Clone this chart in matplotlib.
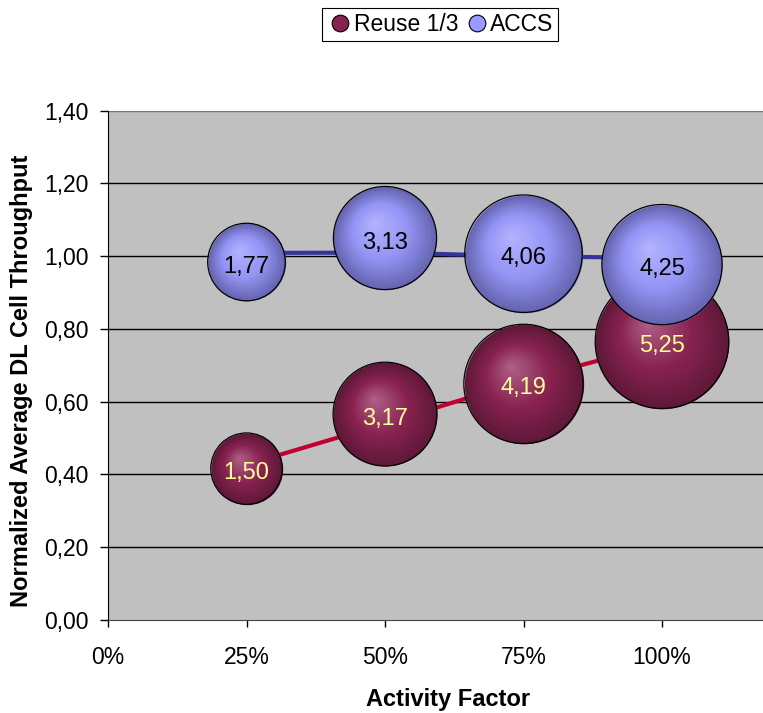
import numpy as np
import matplotlib
matplotlib.use('Agg')
import matplotlib.pyplot as plt
from matplotlib.transforms import ScaledTranslation
from matplotlib.lines import Line2D

plt.rcParams['font.family'] = ['Liberation Sans', 'DejaVu Sans']

# data
activity = [0.25, 0.50, 0.75, 1.00]
reuse_y = [0.416, 0.566, 0.649, 0.765]
reuse_size = [1.50, 3.17, 4.19, 5.25]
reuse_line = [0.427, 0.54, 0.658, 0.76]
accs_y = [0.984, 1.05, 1.007, 0.977]
accs_size = [1.77, 3.13, 4.06, 4.25]
accs_line = [1.009, 1.01, 1.0, 0.995]
yticks = [0.0, 0.2, 0.4, 0.6, 0.8, 1.0, 1.2, 1.4]
xticks = [0.0, 0.25, 0.5, 0.75, 1.0]

W, H = 763, 713
fig = plt.figure(figsize=(W / 100, H / 100), dpi=100)
ax = fig.add_axes([108 / W, (H - 620) / H, 1 - 108 / W, (620 - 110.7) / H])
ax.set_facecolor('#C0C0C0')
ax.set_xlim(0, 655 / 554)
ax.set_ylim(0, 1.4)

for yv in yticks[1:]:
    ax.axhline(yv, color='#000000' if yv < 1.39 else '#777777', lw=1.0, zorder=1)

ax.set_yticks(yticks)
ax.set_yticklabels([f'{v:.2f}'.replace('.', ',') for v in yticks])
ax.set_xticks(xticks)
ax.set_xticklabels([f'{int(v * 100)}%' for v in xticks])
ax.tick_params(axis='y', direction='out', length=6, width=1, pad=8, labelsize=16.5)
ax.tick_params(axis='x', direction='out', length=5, width=1, pad=14, labelsize=16.5)
for s in ['top', 'right']:
    ax.spines[s].set_visible(False)
ax.spines['left'].set_color('black')
ax.spines['bottom'].set_color('#444444')

ax.set_ylabel('Normalized Average DL Cell Throughput', fontsize=17, fontweight='bold')
ax.set_xlabel('Activity Factor', fontsize=17, fontweight='bold')
ax.yaxis.set_label_coords(-(108 - 33) / 655, (620 - 381) / 509.3)
ax.xaxis.set_label_coords((448 - 108) / 655, -(688 - 620) / 509.3)

# connecting lines
ax.plot(activity, reuse_line, color='#C00030', lw=3, zorder=2, solid_capstyle='butt')
ax.plot(activity, accs_line, color='#333399', lw=3, zorder=2, solid_capstyle='butt')

PX = 29.15  # bubble radius in px for size 1


def bubbles(xs, ys, sizes, c_edge, c_mid, c_hi, z):
    c_edge = np.array(matplotlib.colors.to_rgb(c_edge))
    c_mid = np.array(matplotlib.colors.to_rgb(c_mid))
    c_hi = np.array(matplotlib.colors.to_rgb(c_hi))
    n = 40
    for x, y, v in zip(xs, ys, sizes):
        r = PX * np.sqrt(v)  # px
        for k in range(n):
            t = k / n
            if t < 0.45:
                col = c_edge + (c_mid - c_edge) * (t / 0.45)
            else:
                col = c_mid + (c_hi - c_mid) * ((t - 0.45) / 0.55)
            rad = r * (1 - t)
            dx = -0.22 * r * t / 100
            dy = 0.30 * r * t / 100
            tr = ax.transData + ScaledTranslation(dx, dy, fig.dpi_scale_trans)
            ax.scatter([x], [y], s=(2 * rad * 0.72) ** 2, color=col, lw=0,
                       transform=tr, zorder=z)
        ax.scatter([x], [y], s=(2 * r * 0.72) ** 2, facecolor='none',
                   edgecolor='black', lw=0.9, zorder=z + 0.01)
        z += 0.1


bubbles(activity, reuse_y, reuse_size, '#5E1838', '#882250', '#B0628A', 3)
bubbles(activity, accs_y, accs_size, '#6464B0', '#9494F4', '#B4B4FF', 4)

txt_tr = ax.transData + ScaledTranslation(0, -0.045, fig.dpi_scale_trans)
for x, y, v in zip(activity, reuse_y, reuse_size):
    ax.text(x, y, f'{v:.2f}'.replace('.', ','), ha='center', va='center',
            fontsize=17, color='#FFFF99', zorder=10, transform=txt_tr)
for x, y, v in zip(activity, accs_y, accs_size):
    ax.text(x, y, f'{v:.2f}'.replace('.', ','), ha='center', va='center',
            fontsize=17, color='black', zorder=10, transform=txt_tr)

handles = [
    Line2D([], [], marker='o', ls='none', markersize=12, markerfacecolor='#882250',
           markeredgecolor='black', markeredgewidth=0.8, label='Reuse 1/3'),
    Line2D([], [], marker='o', ls='none', markersize=12, markerfacecolor='#9999FF',
           markeredgecolor='black', markeredgewidth=0.8, label='ACCS'),
]
leg = fig.legend(handles=handles, loc='center', bbox_to_anchor=(440 / W, 1 - 24.5 / H),
                 ncol=2, fontsize=16.5, frameon=True, fancybox=False, framealpha=1,
                 edgecolor='black', handletextpad=0.0, columnspacing=0.2,
                 handlelength=1.2, borderpad=0.2, borderaxespad=0)
leg.get_frame().set_linewidth(0.8)

fig.savefig('out.png', dpi=100)
